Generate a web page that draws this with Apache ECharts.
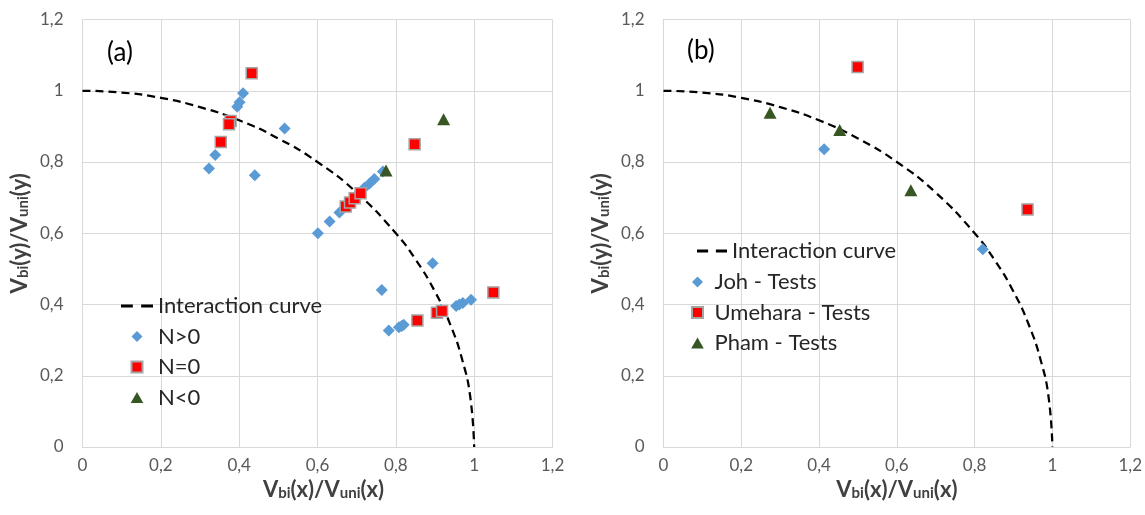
<!DOCTYPE html>
<html>
<head>
<meta charset="utf-8">
<script src="https://cdn.jsdelivr.net/npm/echarts@6/dist/echarts.min.js"></script>
<style>
  html, body { margin: 0; padding: 0; background: #fff; }
  #chart { width: 1145px; height: 515px; }
</style>
</head>
<body>
<div id="chart"></div>
<script>
// values
let curvePts = [
  [0, 1], [0.1, 0.995], [0.2, 0.98], [0.3, 0.954], [0.4, 0.917], [0.5, 0.866],
  [0.6, 0.8], [0.7, 0.714], [0.8, 0.6], [0.85, 0.527], [0.9, 0.436],
  [0.94, 0.341], [0.97, 0.243], [0.99, 0.141], [1, 0]
];

// panel (a)
let nPos = [
  [0.323, 0.782], [0.339, 0.820], [0.395, 0.955], [0.401, 0.968], [0.410, 0.993],
  [0.440, 0.763], [0.516, 0.894],
  [0.601, 0.600], [0.631, 0.633], [0.656, 0.658], [0.675, 0.680], [0.690, 0.697],
  [0.705, 0.712], [0.720, 0.728], [0.733, 0.740], [0.745, 0.752], [0.767, 0.773],
  [0.764, 0.441], [0.894, 0.516],
  [0.782, 0.327], [0.808, 0.336], [0.815, 0.340], [0.820, 0.343],
  [0.915, 0.385], [0.954, 0.396], [0.962, 0.400], [0.971, 0.404], [0.992, 0.413]
];
let nZero = [
  [0.432, 1.049], [0.378, 0.915], [0.374, 0.906], [0.353, 0.856],
  [0.672, 0.675], [0.683, 0.686], [0.695, 0.698], [0.710, 0.712],
  [0.848, 0.850], [0.855, 0.355], [0.905, 0.377], [0.918, 0.382], [1.049, 0.434]
];
let nNeg = [[0.922, 0.920], [0.775, 0.776]];

// panel (b)
let johTests = [[0.413, 0.836], [0.821, 0.555]];
let umeharaTests = [[0.499, 1.067], [0.936, 0.667]];
let phamTests = [[0.274, 0.938], [0.453, 0.890], [0.636, 0.721]];

let axisTicks = [0, 0.2, 0.4, 0.6, 0.8, 1, 1.2];

let ff = 'Lato, "Liberation Sans", sans-serif';
let blue = '#5B9BD5', red = '#FF0000', green = '#375623';

let nameRich = {
  v: {fontSize: 22, fontWeight: 'bold', color: '#404040', fontFamily: ff},
  s: {fontSize: 15, fontWeight: 'bold', color: '#404040', fontFamily: ff, verticalAlign: 'bottom', padding: [6, 0, 0, 0]}
};
let fmt = v => String(v).replace('.', ',');

function xAx(idx, name) {
  return {
    type: 'value', gridIndex: idx, min: axisTicks[0], max: axisTicks[axisTicks.length - 1], interval: 0.2,
    name: name, nameLocation: 'middle', nameGap: 31,
    nameTextStyle: {rich: nameRich, padding: idx === 0 ? [0, 0, 0, 12] : 0},
    axisLine: {show: true, lineStyle: {color: '#D9D9D9', width: 1}},
    axisTick: {show: false},
    axisLabel: {formatter: fmt, color: '#595959', fontSize: 17, fontFamily: ff, margin: 10},
    splitLine: {show: true, lineStyle: {color: '#D9D9D9', width: 1}}
  };
}
function yAx(idx, name) {
  return {
    type: 'value', gridIndex: idx, min: axisTicks[0], max: axisTicks[axisTicks.length - 1], interval: 0.2,
    name: name, nameLocation: 'middle', nameGap: 52,
    nameTextStyle: {rich: nameRich},
    axisLine: {show: true, lineStyle: {color: '#D9D9D9', width: 1}},
    axisTick: {show: false},
    axisLabel: {formatter: fmt, color: '#595959', fontSize: 17, fontFamily: ff, margin: 19},
    splitLine: {show: true, lineStyle: {color: '#D9D9D9', width: 1}}
  };
}

function curve(idx) {
  return {
    name: 'Interaction curve', type: 'line', xAxisIndex: idx, yAxisIndex: idx,
    data: curvePts, smooth: true, showSymbol: false, symbol: 'none',
    lineStyle: {color: '#000', width: 2.25, type: [8, 5]},
    itemStyle: {color: '#000'}, z: 1
  };
}
function diamonds(name, idx, data) {
  return {
    name: name, type: 'scatter', xAxisIndex: idx, yAxisIndex: idx, data: data,
    symbol: 'diamond', symbolSize: 12, itemStyle: {color: blue, opacity: 1}, z: 2
  };
}
function squares(name, idx, data) {
  return {
    name: name, type: 'scatter', xAxisIndex: idx, yAxisIndex: idx, data: data,
    symbol: 'rect', symbolSize: 11, itemStyle: {color: red, borderColor: '#A5A5A5', borderWidth: 1.5, opacity: 1}, z: 3
  };
}
function triangles(name, idx, data) {
  return {
    name: name, type: 'scatter', xAxisIndex: idx, yAxisIndex: idx, data: data,
    symbol: 'triangle', symbolSize: [13, 12], itemStyle: {color: green, opacity: 1}, z: 4
  };
}

let xName = '{v|V}{s|bi}{v|(x)/V}{s|uni}{v|(x)}';
let yName = '{v|V}{s|bi}{v|(y)/V}{s|uni}{v|(y)}';

let legendText = {color: '#262626', fontSize: 22, fontFamily: ff};
// legend icons as paths so they keep their shape inside the wide icon box
let dashIcon = 'path://M0,0H10V2.5H0Z M17,0H27V2.5H17Z';
let diamondIcon = 'path://M5,0L10,5L5,10L0,5Z';
let squareIcon = 'path://M0,0H10V10H0Z';
let triangleIcon = 'path://M6,0L12,10.5L0,10.5Z';

let ec = echarts.init(document.getElementById('chart'));
let option = {
  animation: false,
  grid: [
    {left: 82.5, right: 592.5, top: 19.5, bottom: 68},
    {left: 663.5, right: 11.5, top: 19.5, bottom: 68}
  ],
  xAxis: [xAx(0, xName), xAx(1, xName)],
  yAxis: [yAx(0, yName), yAx(1, yName)],
  legend: [
    {
      orient: 'vertical', left: 121, top: 295, padding: 0, itemWidth: 32, itemHeight: 11, itemGap: 8.5,
      symbolKeepAspect: true, textStyle: legendText,
      data: [
        {name: 'Interaction curve', icon: dashIcon},
        {name: 'N>0', icon: diamondIcon},
        {name: 'N=0', icon: squareIcon},
        {name: 'N<0', icon: triangleIcon}
      ]
    },
    {
      orient: 'vertical', left: 697, top: 240, padding: 0, itemWidth: 30, itemHeight: 11,
      symbolKeepAspect: true, textStyle: legendText,
      data: [{name: 'Interaction curve', icon: dashIcon}]
    },
    {
      orient: 'vertical', left: 691, top: 271, padding: 0, itemWidth: 24, itemHeight: 11, itemGap: 8.5,
      symbolKeepAspect: true, textStyle: legendText,
      data: [
        {name: 'Joh - Tests', icon: diamondIcon},
        {name: 'Umehara - Tests', icon: squareIcon},
        {name: 'Pham - Tests', icon: triangleIcon}
      ]
    }
  ],
  graphic: [
    {type: 'text', left: 107, top: 40, style: {text: '(a)', fontSize: 26, fontFamily: ff, fill: '#000'}},
    {type: 'text', left: 687, top: 38, style: {text: '(b)', fontSize: 26, fontFamily: ff, fill: '#000'}}
  ],
  series: [
    curve(0),
    diamonds('N>0', 0, nPos),
    squares('N=0', 0, nZero),
    triangles('N<0', 0, nNeg),
    curve(1),
    diamonds('Joh - Tests', 1, johTests),
    squares('Umehara - Tests', 1, umeharaTests),
    triangles('Pham - Tests', 1, phamTests)
  ]
};
ec.setOption(option);
</script>
</body>
</html>
